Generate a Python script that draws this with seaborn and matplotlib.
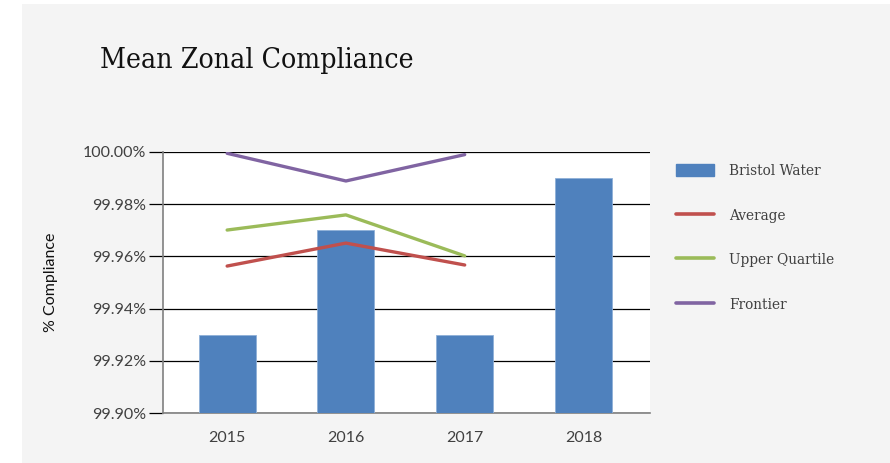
import matplotlib
matplotlib.use("Agg")
import matplotlib.pyplot as plt
import matplotlib.patches as mpatches
from matplotlib.lines import Line2D
from matplotlib.ticker import FuncFormatter, MultipleLocator
import seaborn as sns
import pandas as pd

# Mean zonal compliance (%) by year
years = ["2015", "2016", "2017", "2018"]
bristol_water = [99.93, 99.97, 99.93, 99.99]
line_years = ["2015", "2016", "2017"]
average = [99.9563, 99.9651, 99.9567]
upper_quartile = [99.9701, 99.9759, 99.9602]
frontier = [99.9995, 99.9889, 99.9990]

BAR_C = "#4F81BD"
AVG_C = "#C0504D"
UQ_C = "#9BBB59"
FR_C = "#8064A2"
BG = "#F4F4F4"

sns.set_theme(style="white")
plt.rcParams["font.family"] = ["Lato", "DejaVu Sans"]

fig = plt.figure(figsize=(8.9, 4.63), dpi=100)
fig.patch.set_facecolor("white")
# grey panel behind everything
fig.add_artist(mpatches.Rectangle((22 / 890, 0), 1 - 22 / 890, 1 - 4 / 463,
                                  transform=fig.transFigure, facecolor=BG,
                                  edgecolor="none", zorder=0))

ax = fig.add_axes([163 / 890, 1 - 413 / 463, 487 / 890, 261 / 463])
ax.set_facecolor("white")

bars = pd.DataFrame({"pos": range(len(years)), "value": bristol_water})
sns.barplot(data=bars, x="pos", y="value", native_scale=True, color=BAR_C,
            saturation=1, width=0.48, ax=ax, zorder=3,
            edgecolor="#8FB0D8", linewidth=0.6)

pos = [years.index(y) for y in line_years]
for vals, col in [(average, AVG_C), (upper_quartile, UQ_C), (frontier, FR_C)]:
    sns.lineplot(x=pos, y=vals, color=col, lw=2.4, ax=ax, zorder=4,
                 solid_capstyle="round")

ax.set_ylim(99.90, 100.00)
ax.set_xlim(-0.54, 3.56)
ax.yaxis.set_major_locator(MultipleLocator(0.02))
ax.yaxis.set_major_formatter(FuncFormatter(lambda v, p: f"{v:.2f}%"))
ax.set_xticks(range(len(years)))
ax.set_xticklabels(years)
ax.grid(axis="y", color="black", lw=0.9, zorder=1)
ax.set_axisbelow(True)

for s in ["top", "right"]:
    ax.spines[s].set_visible(False)
for s in ["left", "bottom"]:
    ax.spines[s].set_color("#808080")
    ax.spines[s].set_linewidth(1.2)

ax.tick_params(axis="y", which="major", left=True, length=10, width=0.9,
               color="black", pad=2, labelsize=11.5, labelcolor="#404040")
ax.tick_params(axis="x", bottom=False, pad=7, labelsize=11.5,
               labelcolor="#404040")
ax.set_xlabel("")
ax.set_ylabel("% Compliance", fontsize=11.5, color="#111111", labelpad=18)

fig.text(100 / 890, 1 - 60 / 463, "Mean Zonal Compliance",
         family="DejaVu Serif", stretch="condensed", fontsize=20.3,
         color="#111111", va="center", ha="left")

handles = [mpatches.Patch(color=BAR_C),
           Line2D([], [], color=AVG_C, lw=2.6, solid_capstyle="round"),
           Line2D([], [], color=UQ_C, lw=2.6, solid_capstyle="round"),
           Line2D([], [], color=FR_C, lw=2.6, solid_capstyle="round")]
labels = ["Bristol Water", "Average", "Upper Quartile", "Frontier"]
leg = fig.legend(handles, labels, loc="upper left",
                 bbox_to_anchor=(662 / 890, 1 - 150 / 463),
                 frameon=False, handlelength=2.5, handleheight=0.9,
                 handletextpad=1.0, labelspacing=1.95,
                 prop={"family": "DejaVu Serif", "stretch": "condensed",
                       "size": 11})
for t in leg.get_texts():
    t.set_color("#404040")

fig.savefig("out.png", dpi=100, facecolor=fig.get_facecolor())
